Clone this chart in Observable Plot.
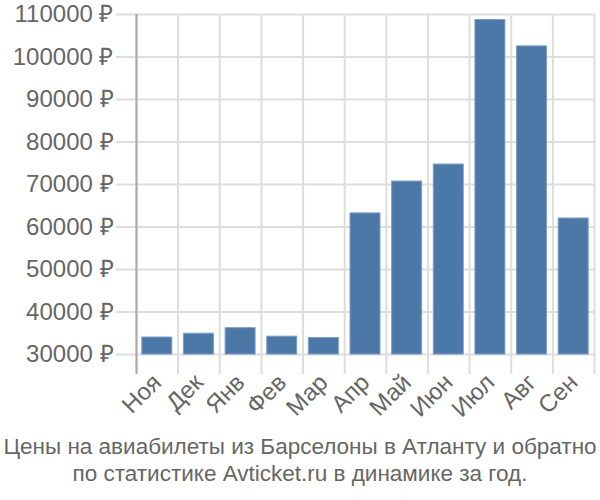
<!DOCTYPE html>
<html><head><meta charset="utf-8">
<script src="https://cdn.jsdelivr.net/npm/d3@7"></script>
<script src="https://cdn.jsdelivr.net/npm/@observablehq/plot@0.6"></script>
<style>
body{margin:0;background:#fff;font-family:"Liberation Sans",Arial,sans-serif;}
#cap{width:600px;text-align:center;color:#666;font-size:22.5px;line-height:27px;padding-top:13px;white-space:nowrap;}
</style></head><body>
<div id="chart"></div>
<div id="cap">Цены на авиабилеты из Барселоны в Атланту и обратно<br>по статистике Avticket.ru в динамике за год.</div>
<script>
const months = ["Ноя","Дек","Янв","Фев","Мар","Апр","Май","Июн","Июл","Авг","Сен"];
const prices = [34000,34900,36200,34200,33900,63200,70700,74700,108700,102500,62000];
const yTicks = [30000,40000,50000,60000,70000,80000,90000,100000,110000];
const baseline = 30000;
const data = months.map((m,i)=>({month:m, price:prices[i]}));
const W=600, H=420, ml=136, mr=6;
const step = (W-ml-mr)/months.length;
const chart = Plot.plot({
  width:W, height:H, marginLeft:ml, marginRight:mr, marginTop:14, marginBottom:46,
  style:{fontFamily:"Liberation Sans, Arial, sans-serif", fontSize:"24px", color:"#666", background:"#fff", overflow:"visible"},
  x:{domain:months, paddingInner:0.28, paddingOuter:0.14, round:false, label:null},
  y:{domain:[25300,110000], label:null},
  marks:[
    Plot.ruleX(months,{x:d=>d, dx:-step/2, stroke:"#ddd", strokeWidth:2}),
    Plot.ruleX([months[months.length-1]],{x:d=>d, dx:step/2, stroke:"#ddd", strokeWidth:2}),
    Plot.ruleY(yTicks,{y:d=>d, stroke:"#ddd", strokeWidth:2}),
    Plot.axisY({ticks:yTicks, tickFormat:d=>d+" ₽", tickSize:20, tickPadding:3, stroke:"#ddd", strokeWidth:2, fill:"#666", fontSize:24}),
    Plot.axisX({tickRotate:-45, tickSize:0, tickPadding:4, fill:"#666", fontSize:24}),
    Plot.barY(data,{x:"month", y1:baseline, y2:"price", fill:"#4c78a8", stroke:"#7d9dc4", strokeWidth:1}),
    Plot.ruleX([months[0]],{x:d=>d, dx:-step/2, stroke:"#aaa", strokeWidth:2})
  ]
});
document.getElementById("chart").append(chart);
</script></body></html>
